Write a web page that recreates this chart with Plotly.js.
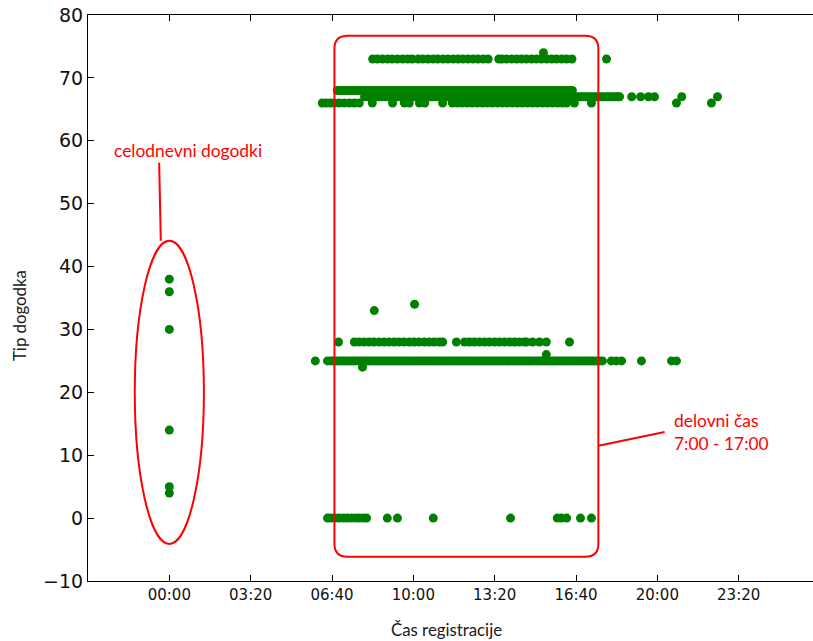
<!DOCTYPE html>
<html>
<head>
<meta charset="utf-8">
<script src="https://cdn.plot.ly/plotly-3.0.1.min.js"></script>
<style>
html, body { margin: 0; padding: 0; overflow: hidden; background: #fff; }
#chart { width: 821px; height: 641px; }
</style>
</head>
<body>
<div id="chart"></div>
<script>
// Time of registration in minutes after midnight; event type on y
const tickVals = [0, 200, 400, 600, 800, 1000, 1200, 1400];
const tickLabels = ['00:00', '03:20', '06:40', '10:00', '13:20', '16:40', '20:00', '23:20'];

// all-day events (registered at 00:00)
const allDayX = [0, 0, 0, 0, 0, 0];
const allDayY = [38, 36, 30, 14, 5, 4];

const x74 = [920];
const x73 = [500, 511, 524, 537, 548, 561, 574, 586, 597, 612, 623, 636, 649, 660, 673, 685, 698, 710, 722, 735, 747, 759, 772, 784, 810, 818, 829, 842, 854, 866, 878, 891, 903, 915, 928, 940, 952, 965, 977, 990, 1075];
const x68 = [413, 419, 425, 431, 437, 443, 450, 456, 462, 468, 474, 480, 487, 493, 499, 505, 511, 517, 524, 530, 536, 542, 548, 554, 561, 567, 573, 579, 586, 592, 598, 604, 610, 616, 623, 629, 635, 641, 647, 653, 660, 666, 672, 678, 684, 690, 697, 703, 709, 715, 721, 727, 734, 740, 746, 752, 758, 764, 771, 777, 783, 789, 795, 801, 808, 814, 820, 826, 832, 838, 845, 851, 857, 863, 869, 875, 882, 888, 894, 900, 906, 912, 919, 925, 931, 937, 943, 949, 956, 962, 968, 974, 980, 986, 991];
const x67 = [480, 486, 493, 499, 505, 511, 517, 523, 530, 536, 542, 548, 554, 560, 567, 573, 579, 585, 591, 597, 604, 610, 616, 622, 628, 634, 641, 647, 653, 659, 665, 671, 678, 684, 690, 696, 702, 708, 715, 721, 727, 733, 739, 745, 752, 758, 764, 770, 776, 782, 789, 795, 801, 807, 813, 819, 826, 832, 838, 844, 850, 856, 863, 869, 875, 881, 887, 893, 900, 906, 912, 918, 924, 930, 937, 943, 949, 955, 961, 967, 974, 980, 986, 992, 998, 1004, 1011, 1017, 1023, 1029, 1035, 1041, 1048, 1054, 1060, 1066, 1072, 1078, 1085, 1091, 1097, 1103, 1107, 1137, 1159, 1178, 1193, 1260, 1348];
const x66 = [376, 386, 396, 406, 418, 430, 443, 455, 467, 499, 549, 578, 590, 615, 628, 672, 696, 708, 720, 733, 745, 757, 770, 782, 794, 807, 819, 831, 844, 856, 868, 881, 893, 905, 918, 930, 942, 955, 967, 977, 996, 1038, 1247, 1333];
const x34 = [603];
const x33 = [504];
const x28 = [416, 455, 467, 479, 491, 503, 516, 528, 540, 553, 565, 577, 590, 602, 614, 627, 639, 651, 664, 672, 706, 726, 738, 750, 763, 775, 787, 800, 812, 824, 837, 849, 861, 873, 878, 893, 910, 927, 984];
const x26 = [927];
const x25 = [359, 389, 397, 403, 409, 415, 421, 427, 433, 440, 446, 452, 458, 464, 470, 476, 482, 488, 495, 501, 507, 513, 519, 525, 532, 538, 544, 550, 556, 562, 569, 575, 581, 587, 593, 599, 606, 612, 618, 624, 630, 636, 643, 649, 655, 661, 667, 673, 680, 686, 692, 698, 704, 710, 717, 723, 729, 735, 741, 747, 754, 760, 766, 772, 778, 784, 791, 797, 803, 809, 815, 821, 828, 834, 840, 846, 852, 858, 865, 871, 877, 883, 889, 895, 902, 908, 914, 920, 926, 932, 939, 945, 951, 957, 963, 969, 976, 982, 988, 994, 1000, 1006, 1013, 1019, 1025, 1031, 1037, 1043, 1050, 1058, 1065, 1087, 1099, 1112, 1161, 1235, 1247];
const x24 = [475];
const x0 = [389, 398, 408, 418, 428, 438, 448, 458, 467, 477, 485, 536, 561, 649, 839, 954, 964, 977, 1011, 1038];

const rows = [
  [x74, 74], [x73, 73], [x68, 68], [x67, 67], [x66, 66], [x34, 34], [x33, 33],
  [x28, 28], [x26, 26], [x25, 25], [x24, 24], [x0, 0]
];
let px = allDayX.slice(), py = allDayY.slice();
rows.forEach(([xs, yv]) => { xs.forEach(v => { px.push(v); py.push(yv); }); });

const trace = {
  type: 'scatter', mode: 'markers', x: px, y: py,
  marker: { color: '#008000', size: 9, line: { width: 0 } },
  hoverinfo: 'x+y'
};

// annotation geometry (data coordinates)
const rx0 = 406, rx1 = 1055, ry0 = -6.15, ry1 = 76.7, cr = 32, crY = 2.07;
const rectPath = `M ${rx0 + cr},${ry1} L ${rx1 - cr},${ry1} Q ${rx1},${ry1} ${rx1},${ry1 - crY} ` +
  `L ${rx1},${ry0 + crY} Q ${rx1},${ry0} ${rx1 - cr},${ry0} L ${rx0 + cr},${ry0} ` +
  `Q ${rx0},${ry0} ${rx0},${ry0 + crY} L ${rx0},${ry1 - crY} Q ${rx0},${ry1} ${rx0 + cr},${ry1} Z`;

const red = '#ff0000';
const annFont = { family: 'Lato, "Open Sans", sans-serif', size: 17.4, color: red };
const titleFont = { family: 'Lato, "Open Sans", sans-serif', size: 16.8, color: '#1a1a1a' };

const layout = {
  width: 821, height: 641,
  margin: { l: 88, r: 1, t: 15, b: 60, pad: 0 },
  paper_bgcolor: '#fff', plot_bgcolor: '#fff',
  showlegend: false,
  xaxis: {
    range: [-200, 1600], tickvals: tickVals, ticktext: tickLabels,
    showgrid: false, zeroline: false, showline: true, linecolor: '#000', linewidth: 1,
    mirror: 'ticks', ticks: 'inside', ticklen: 6, tickcolor: '#000',
    tickfont: { family: '"DejaVu Sans", sans-serif', size: 15, color: '#111' }
  },
  yaxis: {
    range: [-10, 80], tickvals: [-10, 0, 10, 20, 30, 40, 50, 60, 70, 80],
    showgrid: false, zeroline: false, showline: true, linecolor: '#000', linewidth: 1,
    mirror: 'ticks', ticks: 'inside', ticklen: 6, tickcolor: '#000',
    tickfont: { family: '"DejaVu Sans", sans-serif', size: 19, color: '#111' }
  },
  shapes: [
    { type: 'circle', xref: 'x', yref: 'y', x0: -85, x1: 85, y0: -4.1, y1: 44.1,
      line: { color: red, width: 2 } },
    { type: 'line', xref: 'x', yref: 'y', x0: -25, y0: 56.5, x1: -21, y1: 44.1,
      line: { color: red, width: 2 } },
    { type: 'path', xref: 'x', yref: 'y', path: rectPath, line: { color: red, width: 2 } },
    { type: 'line', xref: 'x', yref: 'y', x0: 1055, y0: 11.5, x1: 1218, y1: 13.7,
      line: { color: red, width: 2 } }
  ],
  annotations: [
    { xref: 'x', yref: 'y', x: 45, y: 58.4, text: 'celodnevni dogodki', showarrow: false,
      font: annFont, xanchor: 'center', yanchor: 'middle' },
    { xref: 'x', yref: 'y', x: 1237, y: 15.5, text: 'delovni čas', showarrow: false,
      font: annFont, xanchor: 'left', yanchor: 'middle' },
    { xref: 'x', yref: 'y', x: 1237, y: 11.8, text: '7:00 - 17:00', showarrow: false,
      font: annFont, xanchor: 'left', yanchor: 'middle' },
    { xref: 'paper', yref: 'paper', x: (446 - 88) / 732, y: (581 - 629) / 566,
      text: 'Čas registracije', showarrow: false, font: titleFont,
      xanchor: 'center', yanchor: 'middle' },
    { xref: 'paper', yref: 'paper', x: (19 - 88) / 732, y: (581 - 316) / 566,
      text: 'Tip dogodka', showarrow: false, font: titleFont, textangle: -90,
      xanchor: 'center', yanchor: 'middle' }
  ]
};

Plotly.newPlot('chart', [trace], layout, { displayModeBar: false, staticPlot: true });
</script>
</body>
</html>
